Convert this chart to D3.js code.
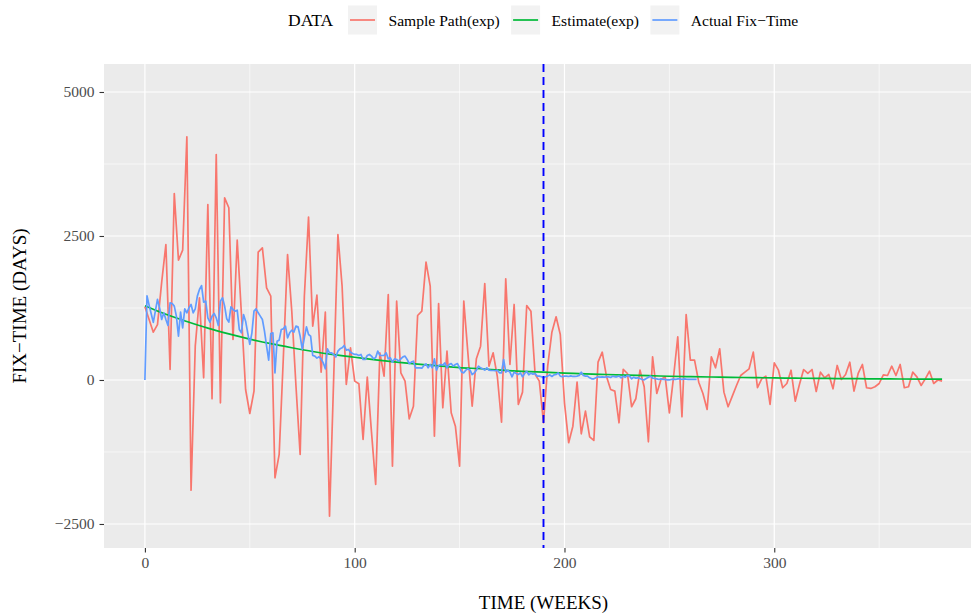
<!DOCTYPE html>
<html>
<head>
<meta charset="utf-8">
<script src="https://cdn.jsdelivr.net/npm/d3@7"></script>
<style>
  body { margin: 0; background: #fff; }
  svg { display: block; }
  svg text { font-family: "Liberation Serif", "Times New Roman", serif; }
</style>
</head>
<body>
<svg id="chart" width="971" height="615"></svg>
<script>
// sample path: one value every 2 weeks, 0..380
const sampleWeeks = d3.range(0, 381, 2);
const samplePath = [
  1270, 1050, 830, 960, 1700, 2352, 182, 3238, 2080, 2254,
  4222, -1913, 587, 1427, 38, 3047, -327, 3915, -396, 3163,
  2990, 703, 2427, 1150, -165, -582, -194, 2219, 2295, 1600,
  1455, -1698, -1293, 400, 2179, 1200, -100, -1293, 1455, 2827,
  934, 1472, 136, 1177, -2364, 50, 2526, 1628, -78, 559,
  -20, -66, -1033, 49, -900, -1814, 472, 66, 1484, -1496,
  1368, 125, -20, -674, -455, 1120, 1195, 2045, 1628, -975,
  1328, -483, 500, -570, -802, -1496, 1368, 450, -455, 368,
  587, 1675, 240, 472, 60, -733, 1757, 269, 1311, -425,
  -211, 1293, 1195, 100, -20, -743, 240, 830, 1097, 790,
  -396, -1090, -802, -38, -934, -541, -986, -1050, 309, 483,
  66, -165, -194, -743, 186, 113, -465, -326, 170, -118,
  -1073, 403, -234, 9, 55, -570, 55, 750, -639, 1137,
  344, 344, -38, -234, -512, 403, 212, 542, -211, -465,
  -281, -95, 78, 136, 194, 483, -135, 20, 66, -425,
  298, 170, -135, -61, 170, -368, -78, 182, 113, 182,
  -200, 136, 38, 95, -153, 252, 9, 95, 309, -194,
  113, 269, -135, -147, -118, -61, 90, 78, 240, 78,
  269, -135, -118, 136, 55, -95, 20, 153, -61, 0,
  -20
];

// actual fix-time: weekly, 0..263
const actualWeeks = d3.range(0, 264);
const actualFix = [
  0, 1460, 1300, 1150, 1000, 1200, 1400, 1250, 1050, 1166,
  1050, 946, 1340, 1328, 1282, 1108, 761, 1178, 906, 1236,
  1166, 1253, 1311, 1166, 1236, 1456, 1571, 1640, 1351, 1369,
  1079, 1004, 1108, 1155, 1079, 946, 1369, 1427, 1282, 1062,
  1004, 1270, 1224, 1195, 1212, 877, 819, 1137, 1021, 819,
  620, 819, 1195, 1236, 1166, 1108, 1050, 848, 587, 344,
  807, 819, 124, 674, 692, 877, 888, 935, 732, 819,
  865, 830, 935, 923, 761, 530, 732, 923, 790, 761,
  425, 414, 379, 402, 367, 298, 194, 541, 472, 472,
  443, 402, 500, 541, 558, 599, 518, 530, 483, 460,
  443, 443, 425, 443, 356, 356, 425, 443, 414, 367,
  390, 501, 425, 425, 425, 472, 367, 385, 310, 367,
  356, 327, 367, 402, 414, 356, 286, 310, 327, 211,
  211, 211, 205, 252, 281, 211, 269, 211, 367, 171,
  252, 269, 258, 298, 211, 269, 286, 240, 269, 286,
  211, 136, 124, 171, 194, 171, 95, 124, 171, 240,
  211, 194, 171, 211, 171, 165, 165, 160, 170, 124,
  124, 356, 136, 165, 136, 55, 136, 113, 95, 124,
  55, 113, 148, 90, 119, 101, 113, 67, 67, 55,
  38, 55, 67, 90, 61, 90, 95, 124, 67, 55,
  67, 67, 61, 72, 61, 61, 67, 78, 136, 78,
  67, 67, 38, 20, 20, 38, 55, 49, 55, 49,
  55, 55, 43, 67, 55, 55, 70, 38, 67, 49,
  78, 67, 20, 49, 32, 38, 26, 9, 3, 26,
  49, 67, 32, 26, 20, 9, 20, 9, 9, 3,
  3, 9, 14, 9, 20, 20, 9, 20, 14, 9,
  9, 9, 9, 9
];

// fitted estimate, read every 10 weeks
const estimateWeeks = d3.range(0, 381, 10);
const estimate = [
  1290, 1140, 1015, 900, 800, 710, 630, 560, 495, 440,
  395, 350, 310, 275, 245, 215, 195, 170, 150, 135,
  120, 105, 95, 85, 75, 65, 58, 52, 46, 41,
  36, 32, 28, 25, 22, 20, 17, 15, 14
];

const cutoffWeek = 190;
const xTicks = [0, 100, 200, 300];
const xMinor = [50, 150, 250, 350];
const yTicks = [-2500, 0, 2500, 5000];
const yMinor = [-1250, 1250, 3750];
const seriesNames = ["Sample Path(exp)", "Estimate(exp)", "Actual Fix\u2212Time"];
const seriesColors = ["#F8766D", "#00BA38", "#619CFF"];

const svg = d3.select("#chart");
const panel = { left: 104, right: 983, top: 64, bottom: 548 };

const x = d3.scaleLinear().domain([-19.5, 399.5]).range([panel.left, panel.right]);
const y = d3.scaleLinear().domain([-2917, 5486]).range([panel.bottom, panel.top]);

svg.append("defs").append("clipPath").attr("id", "clip")
  .append("rect")
  .attr("x", panel.left).attr("y", panel.top)
  .attr("width", panel.right - panel.left).attr("height", panel.bottom - panel.top);

svg.append("rect")
  .attr("x", panel.left).attr("y", panel.top)
  .attr("width", panel.right - panel.left).attr("height", panel.bottom - panel.top)
  .attr("fill", "#EBEBEB");

const grid = svg.append("g").attr("stroke", "#fff");
grid.selectAll(".xminor").data(xMinor).join("line")
  .attr("x1", (d) => x(d)).attr("x2", (d) => x(d))
  .attr("y1", panel.top).attr("y2", panel.bottom)
  .attr("stroke-width", 0.6);
grid.selectAll(".yminor").data(yMinor).join("line")
  .attr("y1", (d) => y(d)).attr("y2", (d) => y(d))
  .attr("x1", panel.left).attr("x2", panel.right)
  .attr("stroke-width", 0.6);
grid.selectAll(".xmajor").data(xTicks).join("line")
  .attr("x1", (d) => x(d)).attr("x2", (d) => x(d))
  .attr("y1", panel.top).attr("y2", panel.bottom)
  .attr("stroke-width", 1.2);
grid.selectAll(".ymajor").data(yTicks).join("line")
  .attr("y1", (d) => y(d)).attr("y2", (d) => y(d))
  .attr("x1", panel.left).attr("x2", panel.right)
  .attr("stroke-width", 1.2);

const plot = svg.append("g").attr("clip-path", "url(#clip)");

const lineOf = (weeks, values, curve) =>
  d3.line()
    .x((d, i) => x(weeks[i]))
    .y((d) => y(d))
    .curve(curve || d3.curveLinear)(values);

plot.append("path")
  .attr("d", lineOf(sampleWeeks, samplePath))
  .attr("fill", "none")
  .attr("stroke", seriesColors[0])
  .attr("stroke-width", 1.7)
  .attr("stroke-linejoin", "round");

plot.append("path")
  .attr("d", lineOf(estimateWeeks, estimate, d3.curveMonotoneX))
  .attr("fill", "none")
  .attr("stroke", seriesColors[1])
  .attr("stroke-width", 1.7);

plot.append("path")
  .attr("d", lineOf(actualWeeks, actualFix))
  .attr("fill", "none")
  .attr("stroke", seriesColors[2])
  .attr("stroke-width", 1.7)
  .attr("stroke-linejoin", "round");

plot.append("line")
  .attr("x1", x(cutoffWeek)).attr("x2", x(cutoffWeek))
  .attr("y1", panel.top).attr("y2", panel.bottom)
  .attr("stroke", "#0000FF")
  .attr("stroke-width", 1.9)
  .attr("stroke-dasharray", "8,5");

// axes
const xAxis = svg.append("g")
  .attr("transform", `translate(0,${panel.bottom})`)
  .call(d3.axisBottom(x).tickValues(xTicks).tickSize(4.5).tickPadding(4));
const yAxis = svg.append("g")
  .attr("transform", `translate(${panel.left},0)`)
  .call(d3.axisLeft(y).tickValues(yTicks).tickSize(4.5).tickPadding(5));

[xAxis, yAxis].forEach((axis) => {
  axis.attr("font-family", null).attr("font-size", null);
  axis.select(".domain").remove();
  axis.selectAll(".tick line").attr("stroke", "#333333").attr("stroke-width", 1.1);
  axis.selectAll(".tick text")
    .attr("fill", "#4D4D4D")
    .style("font-size", "15.5px");
});
yAxis.selectAll(".tick text").text((d) => (d < 0 ? "\u2212" + Math.abs(d) : d));

svg.append("text")
  .attr("x", (panel.left + panel.right) / 2)
  .attr("y", 609)
  .attr("text-anchor", "middle")
  .style("font-size", "19px")
  .attr("fill", "#000")
  .text("TIME (WEEKS)");

svg.append("text")
  .attr("transform", `translate(26,${(panel.top + panel.bottom) / 2}) rotate(-90)`)
  .attr("text-anchor", "middle")
  .style("font-size", "19px")
  .attr("fill", "#000")
  .text("FIX\u2212TIME (DAYS)");

// legend
const legend = svg.append("g");
legend.append("text")
  .attr("x", 288).attr("y", 26)
  .style("font-size", "17.5px")
  .text("DATA");

let cursor = 348;
seriesNames.forEach((name, i) => {
  legend.append("rect")
    .attr("x", cursor).attr("y", 5.5)
    .attr("width", 29).attr("height", 29)
    .attr("fill", "#F2F2F2");
  legend.append("line")
    .attr("x1", cursor + 2).attr("x2", cursor + 27)
    .attr("y1", 20).attr("y2", 20)
    .attr("stroke", seriesColors[i])
    .attr("stroke-width", 1.7);
  const label = legend.append("text")
    .attr("x", cursor + 40.5).attr("y", 25.5)
    .style("font-size", "15.6px")
    .attr("fill", "#000")
    .text(name);
  cursor += 40.5 + label.node().getComputedTextLength() + 11.3;
});
</script>
</body>
</html>
